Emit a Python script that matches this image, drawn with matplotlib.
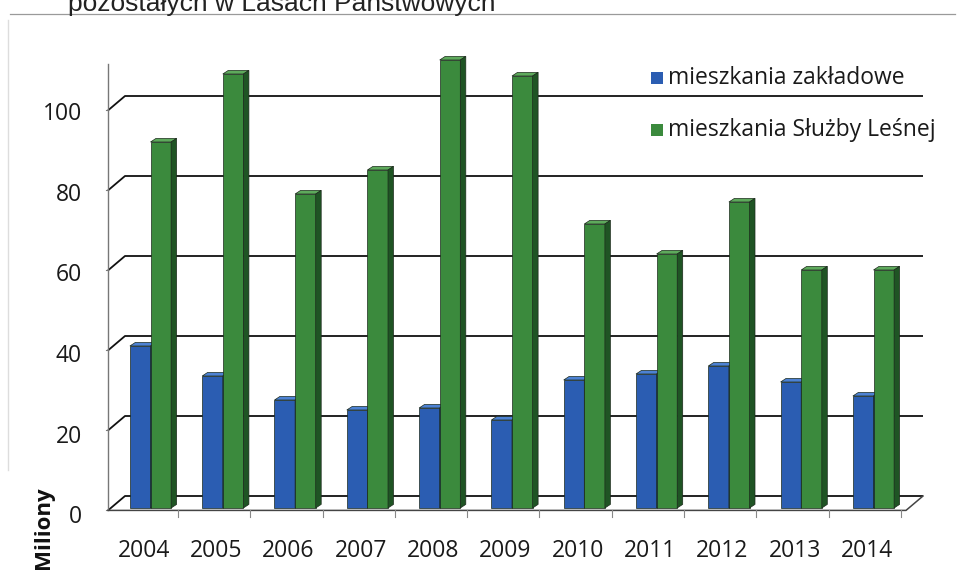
import matplotlib
matplotlib.use('Agg')
import matplotlib.pyplot as plt
from matplotlib.patches import Polygon, Rectangle
from matplotlib.lines import Line2D

plt.rcParams['font.family'] = ['Open Sans', 'DejaVu Sans']

# dane
years = ['2004', '2005', '2006', '2007', '2008', '2009', '2010', '2011', '2012', '2013', '2014']
zakladowe = [40.5, 33, 27, 24.5, 25, 22, 32, 33.5, 35.5, 31.5, 28]
sluzba_lesna = [91.5, 108.5, 78.5, 84.5, 112, 108, 71, 63.5, 76.5, 59.5, 59.5]
series_names = ['mieszkania zakładowe', 'mieszkania Służby Leśnej']
y_ticks = [0, 20, 40, 60, 80, 100]

# kolory (przód, góra, bok)
BLUE = ('#2b5db2', '#4d82d4', '#1b3f80')
GREEN = ('#3b8a3d', '#5eaa5c', '#1f5424')

W = 957
H = 587


# piksele -> jednostki osi
def px_x(p):
    return (p - 150.5) / 72.3


def px_y(p):
    return (508 - p) / 4.0


fig = plt.figure(figsize=(W / 100, H / 100), dpi=100)
ax = fig.add_axes([0, 0, 1, 1])
ax.set_xlim(px_x(0), px_x(W))
ax.set_ylim(px_y(H), px_y(0))
ax.axis('off')

# ściany: lewa krawędź, głębokość
x_front = px_x(108)
x_back = px_x(125)
x_right_front = px_x(906)
x_right_back = px_x(923)
front_off = -0.6
back_off = 3.0

# linie siatki (lewa ściana ukośnie + tylna ściana poziomo)
for g in y_ticks:
    ax.plot([x_front, x_back, x_right_back], [g + front_off, g + back_off, g + back_off],
            color='#111111', lw=1.3, zorder=1, solid_capstyle='butt')
ax.plot([x_front, x_front], [front_off, px_y(64)], color='#777777', lw=1.0, zorder=1)
for g in y_ticks:
    ax.plot([x_front - 0.03, x_front], [g + front_off, g + front_off], color='#777777', lw=0.8, zorder=1)

# podłoga
ax.plot([x_front, x_right_front, x_right_back], [front_off, front_off, back_off],
        color='#444444', lw=1.1, zorder=1)
for i in range(len(years)):
    xt = i + 0.41 - 0.03
    ax.plot([xt, xt], [front_off, front_off - 1.6], color='#888888', lw=0.8, zorder=1)

# słupki 3D
bw = 0.285
ddx = 5.5 / 72.3
ddy = 3.6 / 4.0


def bar3d(x0, v, cols, z):
    front, top, side = cols
    ax.add_patch(Rectangle((x0, 0), bw, v, facecolor=front, edgecolor='#1c2a1c', lw=0.5, zorder=z))
    ax.add_patch(Polygon([(x0, v), (x0 + bw, v), (x0 + bw + ddx, v + ddy), (x0 + ddx, v + ddy)],
                         closed=True, facecolor=top, edgecolor='#1c2a1c', lw=0.5, zorder=z))
    ax.add_patch(Polygon([(x0 + bw, 0), (x0 + bw, v), (x0 + bw + ddx, v + ddy), (x0 + bw + ddx, ddy)],
                         closed=True, facecolor=side, edgecolor='#1c2a1c', lw=0.5, zorder=z))


for i in range(len(years)):
    bar3d(i - bw, zakladowe[i], BLUE, 3 + 2 * i)
    bar3d(i, sluzba_lesna[i], GREEN, 4 + 2 * i)

# etykiety osi Y
for g in y_ticks:
    ax.text(px_x(82), g - 2.3 + 0.008 * g, str(g), ha='right', va='center', fontsize=16.5, color='#1a1a1a')

# etykiety lat
for i, yr in enumerate(years):
    ax.text(i - 0.09, px_y(551), yr, ha='center', va='center', fontsize=16.5, color='#1a1a1a')

# opis osi
ax.text(px_x(43), px_y(528), 'Miliony', rotation=90, ha='center', va='center',
        fontsize=16, fontweight='bold', color='#111111')

# legenda
for k, (name, col) in enumerate(zip(series_names, [BLUE[0], GREEN[0]])):
    yc = [78, 130][k]
    ax.add_patch(Rectangle((px_x(651), px_y(yc + 6)), px_x(663) - px_x(651), px_y(yc - 6) - px_y(yc + 6),
                           facecolor=col, edgecolor='none', zorder=30))
    ax.text(px_x(668), px_y(yc), name, ha='left', va='center', fontsize=16.5, color='#1a1a1a', zorder=30)

# ucięty tytuł i ramka
fig.text(68 / W, 1 - 11 / H, 'pozostałych w Lasach Państwowych', ha='left', va='baseline',
         fontsize=19, family='Liberation Sans', color='#222222')
fig.add_artist(Line2D([10 / W, 955 / W], [1 - 14 / H, 1 - 14 / H], color='#9a9a9a', lw=0.9))
fig.add_artist(Line2D([8 / W, 8 / W], [1 - 20 / H, 1 - 470 / H], color='#dddddd', lw=1.0))

fig.savefig('out.png', dpi=100)
